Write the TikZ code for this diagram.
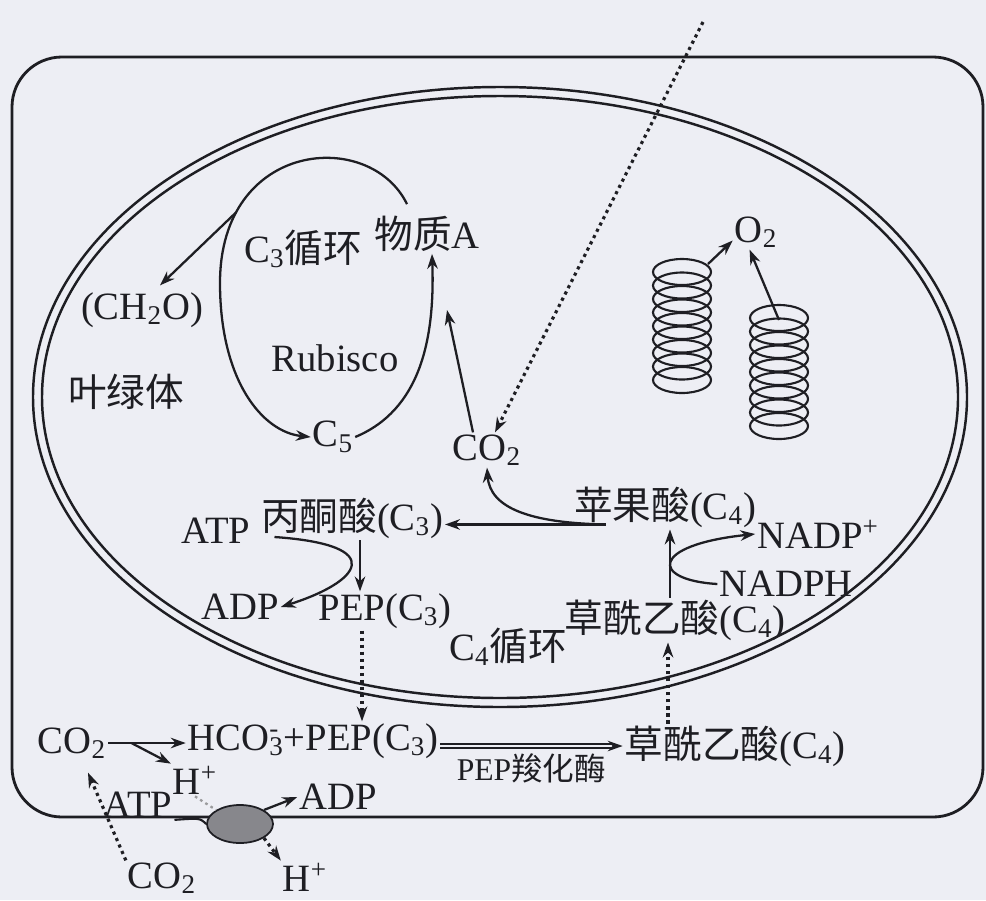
\documentclass[tikz,border=0pt]{standalone}
\usepackage{fontspec}
\setmainfont{Liberation Serif}
\newfontfamily\cjk{Noto Sans CJK SC}
\usepackage{xcolor}
\usetikzlibrary{arrows.meta, calc, shapes.geometric}

\definecolor{ink}{RGB}{30,30,35}
\definecolor{paper}{RGB}{237,238,244}
\definecolor{pumpgrey}{RGB}{135,135,140}

\tikzset{
  lbl/.style={inner sep=1pt, text=ink, font=\fontsize{22}{26}\selectfont},
  small lbl/.style={lbl, font=\fontsize{18}{22}\selectfont},
  arr/.style={draw=ink, line width=1.3pt, -{Stealth[length=8.5pt,width=6pt]}},
  dotarr/.style={draw=ink, line width=1.8pt, dash pattern=on 1.8pt off 2.2pt,
    -{Stealth[length=8.5pt,width=6pt]}},
  membrane/.style={draw=ink, line width=1.4pt},
  granum/.style={draw=ink, line width=1.2pt},
  pump/.style={ellipse, draw=ink, line width=1pt, fill=pumpgrey,
    minimum width=1.32cm, minimum height=0.76cm, inner sep=0pt},
}

\begin{document}
\begin{tikzpicture}[x=0.02cm, y=-0.02cm]
  \fill[paper] (0,0) rectangle (986,900);
  \useasboundingbox (0,0) rectangle (986,900);

  % cell wall and chloroplast envelope
  \draw[membrane, line width=1.6pt, rounded corners=1cm] (12,57) rectangle (983,817);
  \draw[membrane] (500,397) ellipse [x radius=467, y radius=310];
  \draw[membrane] (500,397) ellipse [x radius=458, y radius=301];

  % grana
  \foreach \gx/\gy in {682/272, 779/318}
    \foreach \k in {0,...,8}
      \draw[granum] (\gx,\gy+13.5*\k) ellipse [x radius=29, y radius=13];
  \coordinate (stackL) at (708,264);
  \coordinate (stackR) at (779,320);

  % labels inside the chloroplast
  \node[lbl] (cthree) at (303,249) {C\textsubscript{3}{\cjk 循环}};
  \node[lbl] (matA) at (427,234) {{\cjk 物质}A};
  \node[lbl] (ch2o) at (142,310) {(CH\textsubscript{2}O)};
  \node[lbl] (rubisco) at (335,358) {Rubisco};
  \node[lbl] (chloro) at (126,392) {{\cjk 叶绿体}};
  \node[lbl] (cfive) at (333,437) {C\textsubscript{5}};
  \node[lbl] (co2in) at (487,450) {CO\textsubscript{2}};
  \node[lbl] (otwo) at (756,232) {O\textsubscript{2}};
  \node[lbl] (malate) at (665,507) {{\cjk 苹果酸}(C\textsubscript{4})};
  \node[lbl] (nadpp) at (818,534) {NADP\textsuperscript{+}};
  \node[lbl] (nadph) at (786,584) {NADPH};
  \node[lbl] (oaaup) at (675,620) {{\cjk 草酰乙酸}(C\textsubscript{4})};
  \node[lbl] (atpup) at (216,531) {ATP};
  \node[lbl] (pyr) at (352,518) {{\cjk 丙酮酸}(C\textsubscript{3})};
  \node[lbl] (adpup) at (240,607) {ADP};
  \node[lbl] (pepup) at (385,611) {PEP(C\textsubscript{3})};
  \node[lbl] (cfour) at (508,647) {C\textsubscript{4}{\cjk 循环}};

  % labels in the mesophyll cell and outside
  \node[lbl] (co2out) at (72,743) {CO\textsubscript{2}};
  \node[lbl] (hco3) at (313,741) {HCO\rlap{\textsuperscript{-}}\textsubscript{3}+PEP(C\textsubscript{3})};
  \node[lbl] (hplus) at (195,780) {H\textsuperscript{+}};
  \node[lbl] (oaadn) at (735,746) {{\cjk 草酰乙酸}(C\textsubscript{4})};
  \node[lbl] (atpdn) at (138,805) {ATP};
  \node[lbl] (adpdn) at (338,797) {ADP};
  \node[lbl] (co2air) at (162,878) {CO\textsubscript{2}};
  \node[lbl] (hout) at (305,877) {H\textsuperscript{+}};

  % C3 cycle
  \draw[arr] ($(matA.north)+(-20,-10)$) .. controls (370,128) and (220,140) ..
    coordinate[pos=0.8] (fork) (220,283) .. controls (220,380) and (262,432) .. (cfive.west);
  \draw[arr] (fork) -- ($(ch2o.north)+(18,-5)$);
  \draw[arr] (cfive.east) .. controls (420,410) and (435,340) .. ($(matA.south)+(5,0)$);
  \coordinate (feedtip) at (447,310);
  \draw[arr] ($(co2in.north)+(-14,0)$) -- (feedtip);
  \coordinate (airin) at (703,22);
  \draw[dotarr] (airin) -- ($(co2in.north)+(8,0)$);

  % light reactions
  \draw[arr] (stackL) -- (otwo.200);
  \draw[arr] (stackR) -- (otwo.250);

  % C4 cycle
  \coordinate (mstart) at ($(malate.south west)+(34,-5)$);
  \draw[arr] (mstart) -- (mstart -| pyr.east);
  \draw[arr] (mstart) .. controls (530,523) and (490,508) .. (co2in.south);
  \coordinate (pdown) at ($(pyr.south)+(8,0)$);
  \draw[arr] (pdown) -- (pdown |- pepup.north);
  \draw[arr] ($(atpup.east)+(22,6)$) .. controls (390,545) and (360,582) .. (adpup.east);
  \coordinate (oup) at ($(oaaup.north)+(-5,0)$);
  \draw[arr] (oup) -- (oup |- malate.south);
  \draw[arr] (nadph.west) .. controls (650,580) and (650,545) .. (nadpp.west);
  \coordinate (pepdrop) at ($(pepup.south)+(-23,0)$);
  \draw[dotarr] (pepdrop) -- (pepdrop |- hco3.north);
  \coordinate (oaarise) at ($(oaaup.south)+(-7,0)$);
  \draw[dotarr] (oaarise |- oaadn.north) -- (oaarise);

  % carboxylation in the mesophyll
  \draw[arr] (co2out.east) -- coordinate[pos=0.3] (split) (co2out.east -| hco3.west);
  \draw[arr] (split) -- (hplus.north west);
  \draw[arr, double=paper, double distance=1.3pt, line width=0.9pt]
    (oaadn.west -| hco3.east) -- (oaadn.west)
    node[small lbl, midway, below=3pt] (pepc) {PEP{\cjk 羧化酶}};
  \draw[dotarr] (co2air.north west) -- ($(co2out.south)+(16,12)$);

  % proton pump
  \node[pump] (pump) at (240,824) {};
  \draw[ink, line width=1.2pt] (atpdn.south east) .. controls (200,818) .. (pump.west);
  \draw[arr] (pump.north east) -- (adpdn.west);
  \draw[ink!45, line width=1.3pt, dash pattern=on 1.5pt off 2pt] (hplus.south) -- (pump.north west);
  \draw[dotarr] (pump.south east) -- (hout.north west);
\end{tikzpicture}
\end{document}
